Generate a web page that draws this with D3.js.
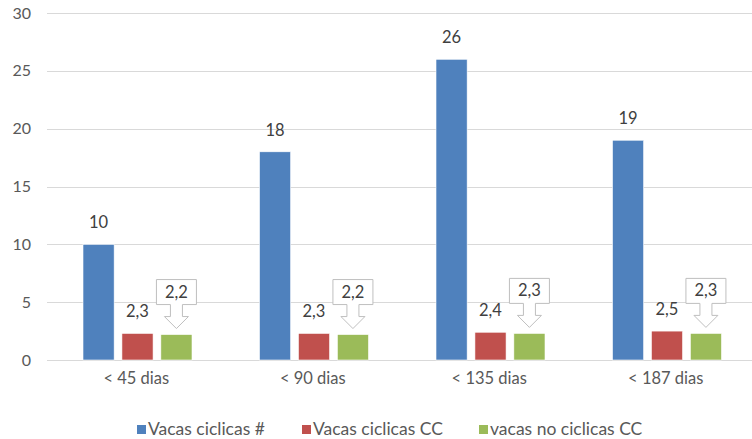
<!DOCTYPE html>
<html>
<head>
<meta charset="utf-8">
<script src="https://cdn.jsdelivr.net/npm/d3@7"></script>
<style>
  html, body { margin: 0; padding: 0; background: #fff; }
  svg { display: block; font-family: Lato, "Open Sans", sans-serif; }
</style>
</head>
<body>
<script>
// chart data
const categories = ["< 45 dias", "< 90 dias", "< 135 dias", "< 187 dias"];
const seriesNames = ["Vacas ciclicas #", "Vacas ciclicas CC", "vacas no ciclicas CC"];
const vacasCiclicas = [10, 18, 26, 19];
const vacasCiclicasCC = [2.3, 2.3, 2.4, 2.5];
const vacasNoCiclicasCC = [2.2, 2.2, 2.3, 2.3];
const yTicks = [0, 5, 10, 15, 20, 25, 30];

const colors = ["#4f81bd", "#c0504d", "#9bbb59"];
const seriesValues = [vacasCiclicas, vacasCiclicasCC, vacasNoCiclicasCC];
const textColor = "#595959";
const fmt = v => String(v).replace(".", ",");

const width = 752, height = 439;
const svg = d3.select("body").append("svg")
  .attr("width", width)
  .attr("height", height);

const y = d3.scaleLinear().domain([0, 30]).range([360, 13]);
const x0 = d3.scaleBand().domain(categories).range([48, 754]);
const x1 = d3.scaleBand().domain(seriesNames).range([35, 144]).paddingInner(0.2);

// gridlines
svg.append("g").selectAll("line")
  .data(yTicks)
  .enter().append("line")
  .attr("x1", 47).attr("x2", width)
  .attr("y1", d => Math.round(y(d)) + 0.5)
  .attr("y2", d => Math.round(y(d)) + 0.5)
  .attr("stroke", "#d9d9d9")
  .attr("stroke-width", 1.2);

// y axis labels
const yAxis = svg.append("g")
  .attr("transform", "translate(31,0)")
  .call(d3.axisLeft(y).tickValues(yTicks).tickSize(0).tickPadding(0));
yAxis.select(".domain").remove();
yAxis.selectAll("text")
  .attr("fill", textColor)
  .style("font-size", "16px")
  .style("font-family", "Lato, 'Open Sans', sans-serif");

// x axis labels
const xAxis = svg.append("g")
  .attr("transform", "translate(0,372)")
  .call(d3.axisBottom(x0).tickSize(0).tickPadding(0));
xAxis.select(".domain").remove();
xAxis.selectAll("text")
  .attr("fill", textColor)
  .style("font-size", "16.5px")
  .style("font-family", "Lato, 'Open Sans', sans-serif");

// bars
const rows = [];
categories.forEach((c, i) => {
  seriesNames.forEach((s, j) => {
    rows.push({ cat: c, series: s, j: j, value: seriesValues[j][i] });
  });
});

svg.append("g").selectAll("rect")
  .data(rows)
  .enter().append("rect")
  .attr("x", d => x0(d.cat) + x1(d.series))
  .attr("y", d => y(d.value))
  .attr("width", x1.bandwidth())
  .attr("height", d => y(0) - y(d.value))
  .attr("fill", d => colors[d.j])
  .attr("stroke", "#fff")
  .attr("stroke-width", 0.6);

// plain data labels (blue, red)
svg.append("g").selectAll("text")
  .data(rows.filter(d => d.j < 2))
  .enter().append("text")
  .attr("x", d => x0(d.cat) + x1(d.series) + x1.bandwidth() / 2)
  .attr("y", d => y(d.value) - 16)
  .attr("text-anchor", "middle")
  .attr("fill", "#404040")
  .style("font-size", "16.5px")
  .text(d => fmt(d.value));

// callout labels (green)
const callouts = svg.append("g").selectAll("g")
  .data(rows.filter(d => d.j === 2))
  .enter().append("g")
  .attr("transform", d => `translate(${x0(d.cat) + x1(d.series) + x1.bandwidth() / 2},${y(d.value) - 6})`);

callouts.append("path")
  .attr("d", "M-20,-49 H20 V-24 H6 V-12 H12 L0,0 L-12,-12 H-6 V-24 H-20 Z")
  .attr("fill", "#fff")
  .attr("stroke", "#bfbfbf")
  .attr("stroke-width", 1);

callouts.append("text")
  .attr("y", -31)
  .attr("text-anchor", "middle")
  .attr("fill", "#404040")
  .style("font-size", "16.5px")
  .text(d => fmt(d.value));

// legend
const legendStarts = [137, 302, 479];
const legend = svg.append("g").selectAll("g")
  .data(seriesNames)
  .enter().append("g")
  .attr("transform", (d, i) => `translate(${legendStarts[i]},429)`);

legend.append("rect")
  .attr("x", 0).attr("y", -4)
  .attr("width", 9).attr("height", 9)
  .attr("fill", (d, i) => colors[i]);

legend.append("text")
  .attr("x", 11)
  .attr("y", 6)
  .attr("fill", textColor)
  .style("font-size", "17.5px")
  .text(d => d);
</script>
</body>
</html>
